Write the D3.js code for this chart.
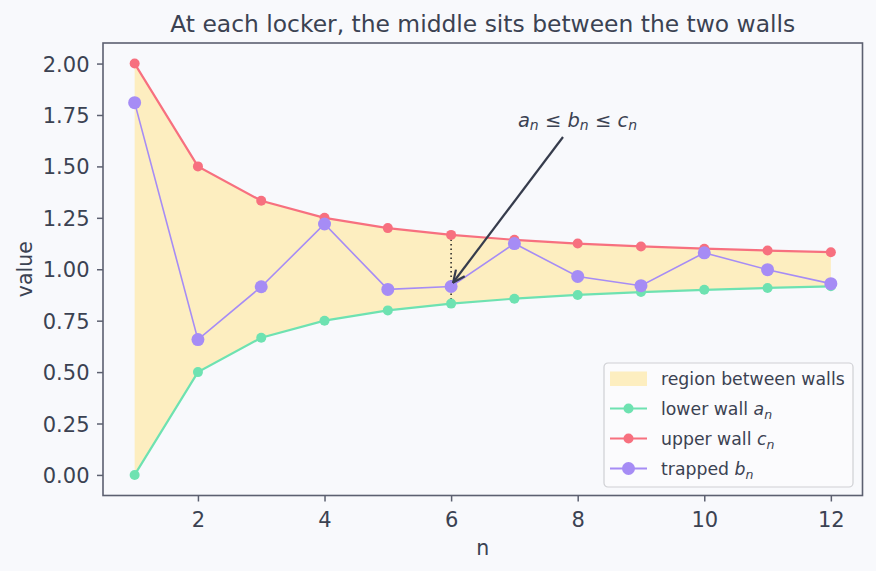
<!DOCTYPE html>
<html><head><meta charset="utf-8">
<script src="https://cdn.jsdelivr.net/npm/d3@7"></script>
<style>
html,body{margin:0;padding:0;background:#f8f9fc;}
svg{display:block;font-family:"DejaVu Sans",sans-serif;}
</style></head>
<body>
<svg id="chart" width="876" height="571"></svg>
<script>
const n = [1,2,3,4,5,6,7,8,9,10,11,12];
const lowerWall = [0.000,0.500,0.667,0.750,0.800,0.833,0.857,0.875,0.889,0.900,0.909,0.917];
const upperWall = [2.000,1.500,1.333,1.250,1.200,1.167,1.143,1.125,1.111,1.100,1.091,1.083];
const trapped   = [1.810,0.658,0.915,1.220,0.902,0.916,1.125,0.965,0.920,1.080,0.998,0.930];
const xTicks = [2,4,6,8,10,12];
const yTicks = [0,0.25,0.5,0.75,1,1.25,1.5,1.75,2];
const titleText = "At each locker, the middle sits between the two walls";
const markIndex = 5; // n = 6

const W=876,H=571;
const m={left:103,right:876-862.5,top:43,bottom:571-495.5};
const svg=d3.select("#chart");
const textCol="#3b4252", spineCol="#5c6070";
const cGreen="#6ee2b1", cRed="#f7707f", cPurple="#a68cf5", cFill="#fdeec0";

const x=d3.scaleLinear().domain([0.5,12.5]).range([m.left,W-m.right]);
const y=d3.scaleLinear().domain([-0.1,2.1]).range([H-m.bottom,m.top]);

const data=n.map((v,i)=>({n:v,a:lowerWall[i],b:trapped[i],c:upperWall[i]}));

// fill region
svg.append("path").datum(data)
  .attr("d",d3.area().x(d=>x(d.n)).y0(d=>y(d.a)).y1(d=>y(d.c)))
  .attr("fill",cFill);

// dotted line at n=6
const dm=data[markIndex];
svg.append("line").attr("x1",x(dm.n)).attr("x2",x(dm.n))
  .attr("y1",y(dm.c)).attr("y2",y(dm.a))
  .attr("stroke","#222").attr("stroke-width",1.5).attr("stroke-dasharray","1.5,3");

function series(key,col,r,lw){
  svg.append("path").datum(data)
    .attr("d",d3.line().x(d=>x(d.n)).y(d=>y(d[key])))
    .attr("fill","none").attr("stroke",col).attr("stroke-width",lw);
  svg.append("g").selectAll("circle").data(data).join("circle")
    .attr("cx",d=>x(d.n)).attr("cy",d=>y(d[key])).attr("r",r).attr("fill",col);
}
series("a",cGreen,5,2.2);
series("c",cRed,5,2.2);
series("b",cPurple,6.5,1.6);

// axes
const gx=svg.append("g").attr("transform",`translate(0,${H-m.bottom})`)
  .call(d3.axisBottom(x).tickValues(xTicks).tickSize(6).tickPadding(5).tickFormat(d3.format("d")));
const gy=svg.append("g").attr("transform",`translate(${m.left},0)`)
  .call(d3.axisLeft(y).tickValues(yTicks).tickSize(6).tickPadding(7.5).tickFormat(d3.format(".2f")));
[gx,gy].forEach(g=>{
  g.select(".domain").remove();
  g.selectAll(".tick line").attr("stroke",spineCol).attr("stroke-width",1.5);
  g.selectAll(".tick text").attr("fill",textCol).attr("font-size",21).attr("font-family","DejaVu Sans");
});
gx.selectAll(".tick text").attr("y",31).attr("dy",0);
gy.selectAll(".tick text").attr("dy","0.36em");
// frame
svg.append("rect").attr("x",m.left).attr("y",m.top)
  .attr("width",W-m.right-m.left).attr("height",H-m.bottom-m.top)
  .attr("fill","none").attr("stroke",spineCol).attr("stroke-width",1.6);

// title & labels
svg.append("text").attr("x",(m.left+W-m.right)/2).attr("y",32)
  .attr("text-anchor","middle").attr("fill",textCol).attr("font-size",23.4).text(titleText);
svg.append("text").attr("x",(m.left+W-m.right)/2).attr("y",555)
  .attr("text-anchor","middle").attr("fill",textCol).attr("font-size",20.5).text("n");
svg.append("text").attr("transform",`translate(31.5,${(m.top+H-m.bottom)/2}) rotate(-90)`)
  .attr("text-anchor","middle").attr("fill",textCol).attr("font-size",20.5).text("value");

// annotation
const defs=svg.append("defs");
defs.append("marker").attr("id","ah").attr("viewBox","0 0 14 14").attr("refX",13).attr("refY",7)
  .attr("markerWidth",14).attr("markerHeight",14).attr("markerUnits","userSpaceOnUse").attr("orient","auto")
  .append("path").attr("d","M1,1.5 L13,7 L1,12.5").attr("fill","none").attr("stroke","#363c4c").attr("stroke-width",2.2);
const ax0=563, ay0=137;
svg.append("line").attr("x1",ax0).attr("y1",ay0).attr("x2",x(dm.n)+2).attr("y2",y(dm.b)-4)
  .attr("stroke","#363c4c").attr("stroke-width",2.2).attr("marker-end","url(#ah)");
const at=svg.append("text").attr("x",577.5).attr("y",126.5).attr("text-anchor","middle")
  .attr("fill",textCol).attr("font-size",19.5);
function mt(sel,base,sub){
  sel.append("tspan").attr("font-style","italic").text(base);
  sel.append("tspan").attr("font-style","italic").attr("font-size",14).attr("dy",3.5).text(sub);
}
mt(at,"a","n");
at.append("tspan").attr("dy",-3.5).text(" ≤ ");
mt(at,"b","n");
at.append("tspan").attr("dy",-3.5).text(" ≤ ");
mt(at,"c","n");

// legend
const lg=svg.append("g").attr("transform","translate(604,363)");
lg.append("rect").attr("width",249).attr("height",124).attr("rx",4)
  .attr("fill","#fbfbfd").attr("stroke","#cfd0d4").attr("stroke-width",1.2);
const items=[
  {type:"area",label:"region between walls"},
  {type:"line",col:cGreen,r:5,base:"lower wall ",sub:"a"},
  {type:"line",col:cRed,r:5,base:"upper wall ",sub:"c"},
  {type:"line",col:cPurple,r:6.5,base:"trapped ",sub:"b"}
];
items.forEach((it,i)=>{
  const yy=15.5+i*30;
  const g=lg.append("g").attr("transform",`translate(0,${yy})`);
  if(it.type==="area"){
    g.append("rect").attr("x",6).attr("y",-7).attr("width",37).attr("height",14.5).attr("fill",cFill);
    g.append("text").attr("x",57).attr("y",6).attr("fill",textCol).attr("font-size",17.3).text(it.label);
  } else {
    g.append("line").attr("x1",6).attr("x2",43).attr("y1",0).attr("y2",0).attr("stroke",it.col).attr("stroke-width",2.2);
    g.append("circle").attr("cx",24.5).attr("cy",0).attr("r",it.r).attr("fill",it.col);
    const t=g.append("text").attr("x",57).attr("y",6).attr("fill",textCol).attr("font-size",17.3);
    t.append("tspan").text(it.base);
    t.append("tspan").attr("font-style","italic").text(it.sub);
    t.append("tspan").attr("font-style","italic").attr("font-size",12.5).attr("dy",4).text("n");
  }
});
</script>
</body></html>
